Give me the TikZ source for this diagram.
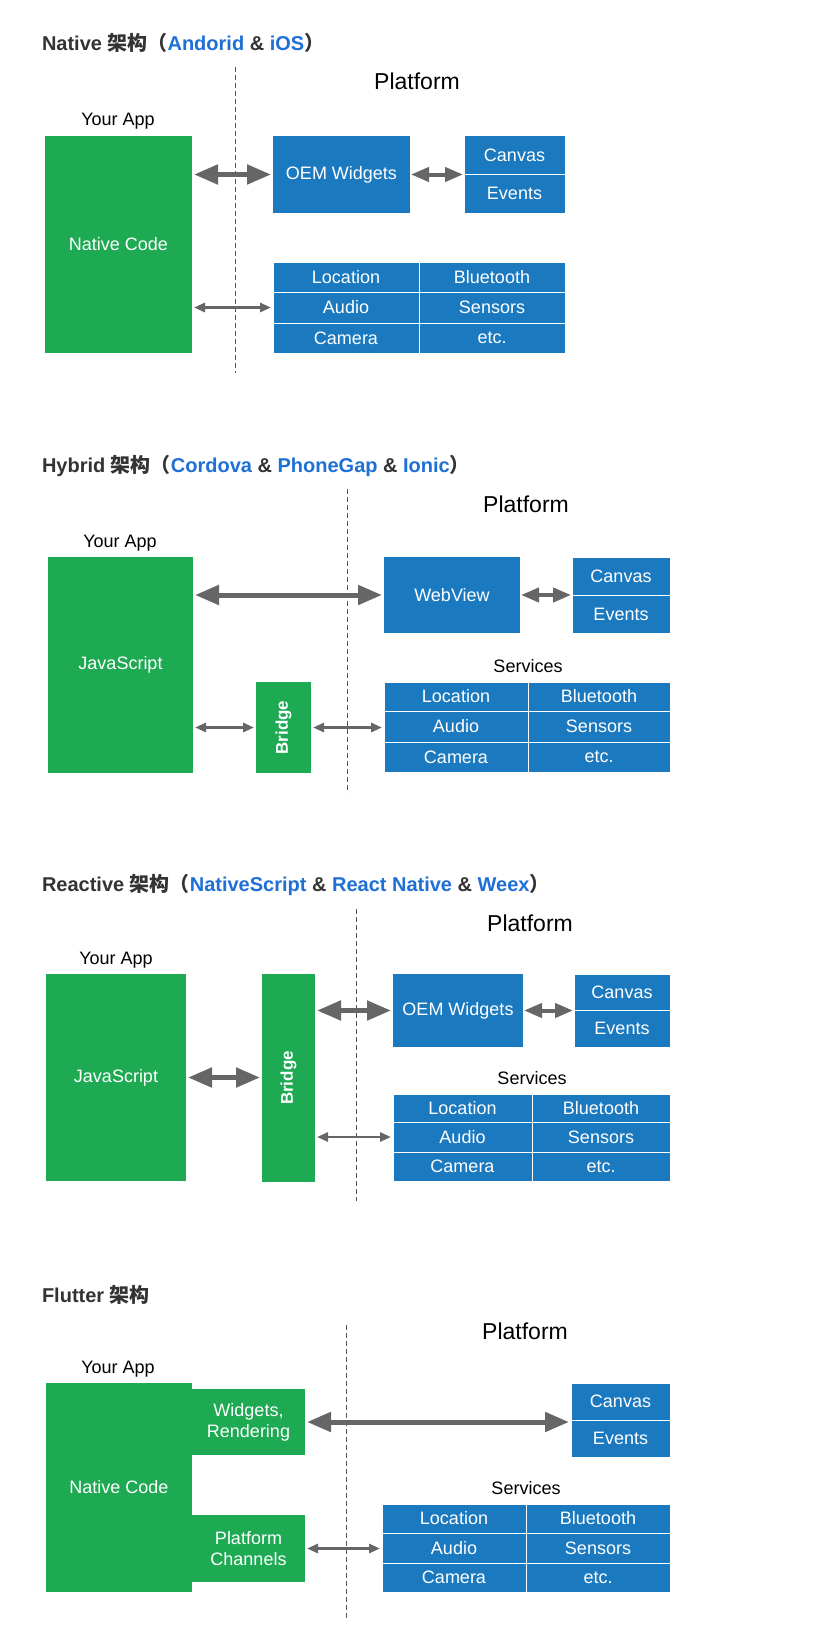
\documentclass[tikz,border=0pt]{standalone}
\usepackage{fontspec}
\setmainfont{Liberation Sans}
\newfontfamily\cjk{Noto Sans CJK SC}
\usetikzlibrary{arrows.meta}
\definecolor{appgreen}{HTML}{1DAA53}
\definecolor{platblue}{HTML}{1B79BF}
\definecolor{linkblue}{HTML}{1E6FD6}
\definecolor{titlegrey}{HTML}{333333}
\definecolor{arrowgrey}{HTML}{666666}
\definecolor{divgrey}{HTML}{555555}
\tikzset{
  box/.style={inner sep=0pt, outer sep=0pt, text=white, font=\fontsize{18}{21}\selectfont, align=center},
  gbox/.style={box, fill=appgreen},
  bbox/.style={box, fill=platblue},
  cell/.style={bbox, draw=white, line width=1pt},
  lbl/.style={inner sep=0pt, outer sep=0pt, anchor=base, text=black, font=\fontsize{18}{21}\selectfont},
  plat/.style={lbl, font=\fontsize{23}{26}\selectfont},
  ttl/.style={inner sep=0pt, outer sep=0pt, anchor=base west, text=titlegrey, font=\fontsize{20}{23}\selectfont\bfseries},
  bigarrow/.style={draw=arrowgrey, line width=5pt, {Triangle[length=24pt,width=19pt]}-{Triangle[length=24pt,width=19pt]}, shorten >=2pt, shorten <=2pt},
  midarrow/.style={draw=arrowgrey, line width=4pt, {Triangle[length=18pt,width=14pt]}-{Triangle[length=18pt,width=14pt]}, shorten >=1pt, shorten <=1pt},
  smallarrow/.style={draw=arrowgrey, line width=2.8pt, {Triangle[length=11pt,width=9pt]}-{Triangle[length=11pt,width=9pt]}, shorten >=2pt, shorten <=2pt},
  divider/.style={draw=divgrey, line width=0.8pt, dash pattern=on 5pt off 3pt}
}
% #1 name, #2 x1, #3 y1, #4 x2, #5 y2, #6 style, #7 text
\newcommand\bx[7]{\node[#6,minimum width={(#4-#2)*1pt},minimum height={(#5-#3)*1pt}] (#1) at ({(#2+#4)/2},{(#3+#5)/2}) {#7};}
% #1 prefix, #2 x1, #3 xm, #4 x2, #5 y1, #6 r1, #7 r2, #8 y2
\newcommand\grid[8]{%
  \bx{#1loc}{#2}{#5}{#3}{#6}{cell}{Location}
  \bx{#1blu}{#3}{#5}{#4}{#6}{cell}{Bluetooth}
  \bx{#1aud}{#2}{#6}{#3}{#7}{cell}{Audio}
  \bx{#1sen}{#3}{#6}{#4}{#7}{cell}{Sensors}
  \bx{#1cam}{#2}{#7}{#3}{#8}{cell}{Camera}
  \bx{#1etc}{#3}{#7}{#4}{#8}{cell}{etc.}
}
\newcommand\arch{{\cjk 架构}}
\newcommand\lp{{\cjk （}}
\newcommand\rp{{\cjk ）}}
\newcommand\lk[1]{\textcolor{linkblue}{#1}}
\begin{document}
\begin{tikzpicture}[x=1pt,y=-1pt]
\useasboundingbox[fill=white] (0,0) rectangle (833,1651);

% ===== Section 1: Native =====
\node[ttl] (t1) at (42,51) {Native \arch\lp\lk{Andorid} \& \lk{iOS}\rp};
\node[plat] (p1) at (417,90) {Platform};
\node[lbl] (y1) at (118,125) {Your App};
\draw[divider] (235,67) -- (235,373);
\bx{n1}{45}{136}{192}{353}{gbox}{Native Code}
\bx{o1}{273}{136}{410}{213}{bbox}{OEM Widgets}
\bx{c1}{464}{136}{565}{174}{cell}{Canvas}
\bx{e1}{464}{174}{565}{213}{cell}{Events}
\grid{a}{273}{419}{565}{262}{292}{323}{353}
\draw[bigarrow] (n1.east |- o1.west) -- (o1.west);
\draw[midarrow] (o1.east) -- (o1.east -| c1.west);
\draw[smallarrow] (n1.east |- aaud.west) -- (aaud.west);

% ===== Section 2: Hybrid =====
\node[ttl] (t2) at (42,472) {Hybrid \arch\lp\lk{Cordova} \& \lk{PhoneGap} \& \lk{Ionic}\rp};
\node[plat] (p2) at (526,512) {Platform};
\node[lbl] (y2) at (120,547) {Your App};
\node[lbl] (s2) at (528,672) {Services};
\draw[divider] (347,489) -- (347,793);
\bx{j2}{48}{557}{193}{773}{gbox}{JavaScript}
\bx{b2}{256}{682}{311}{773}{gbox}{\rotatebox{90}{\fontsize{17}{20}\selectfont\bfseries Bridge}}
\bx{w2}{384}{557}{520}{633}{bbox}{WebView}
\bx{c2}{572}{557}{670}{595}{cell}{Canvas}
\bx{e2}{572}{595}{670}{633}{cell}{Events}
\grid{b}{384}{528}{670}{682}{711}{742}{772}
\draw[bigarrow] (j2.east |- w2.west) -- (w2.west);
\draw[midarrow] (w2.east) -- (w2.east -| c2.west);
\draw[smallarrow] (j2.east |- b2.west) -- (b2.west);
\draw[smallarrow] (b2.east) -- (b2.east -| baud.west);

% ===== Section 3: Reactive =====
\node[ttl] (t3) at (42,891) {Reactive \arch\lp\lk{NativeScript} \& \lk{React Native} \& \lk{Weex}\rp};
\node[plat] (p3) at (530,931) {Platform};
\node[lbl] (y3) at (116,964) {Your App};
\node[lbl] (s3) at (532,1084) {Services};
\draw[divider] (356,909) -- (356,1201);
\bx{j3}{46}{974}{186}{1181}{gbox}{JavaScript}
\bx{b3}{262}{974}{315}{1182}{gbox}{\rotatebox{90}{\fontsize{17}{20}\selectfont\bfseries Bridge}}
\bx{o3}{393}{974}{523}{1047}{bbox}{OEM Widgets}
\bx{c3}{574}{974}{670}{1010}{cell}{Canvas}
\bx{e3}{574}{1010}{670}{1047}{cell}{Events}
\grid{c}{393}{532}{670}{1094}{1122}{1152}{1181}
\draw[bigarrow] (b3.east |- o3.west) -- (o3.west);
\draw[midarrow] (o3.east) -- (o3.east -| c3.west);
\draw[bigarrow] (j3.east) -- (j3.east -| b3.west);
\draw[smallarrow] (b3.east |- caud.west) -- (caud.west);

% ===== Section 4: Flutter =====
\node[ttl] (t4) at (42,1302) {Flutter \arch};
\node[plat] (p4) at (525,1339) {Platform};
\node[lbl] (y4) at (118,1373) {Your App};
\node[lbl] (s4) at (526,1494) {Services};
\draw[divider] (346,1325) -- (346,1618);
\bx{n4}{46}{1383}{192}{1592}{gbox}{Native Code}
\bx{w4}{192}{1389}{305}{1455}{gbox}{Widgets,\\Rendering}
\bx{h4}{192}{1515}{305}{1582}{gbox}{Platform\\Channels}
\bx{c4}{571}{1383}{670}{1420}{cell}{Canvas}
\bx{e4}{571}{1420}{670}{1457}{cell}{Events}
\grid{d}{382}{526}{670}{1504}{1533}{1563}{1592}
\draw[bigarrow] (w4.east) -- (w4.east -| c4.west);
\draw[smallarrow] (h4.east) -- (h4.east -| daud.west);
\end{tikzpicture}
\end{document}
